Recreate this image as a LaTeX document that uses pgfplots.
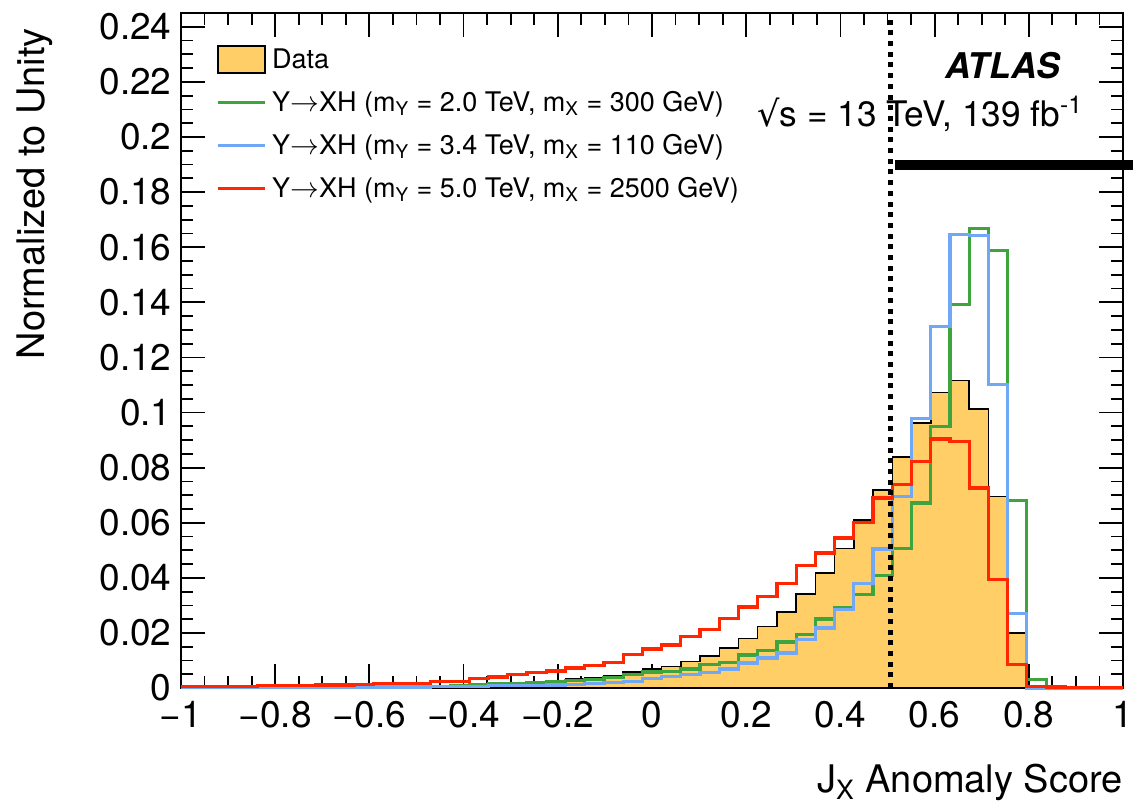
\documentclass[border=0pt]{standalone}
\usepackage{pgfplots}
\usepackage{pgfplotstable}
\pgfplotsset{compat=1.18}
\usepackage{amsmath}
\usepackage{fontspec}
\setmainfont{TeX Gyre Heros}
\newfontfamily\dejavu{DejaVu Sans}
\definecolor{datayellow}{RGB}{255,206,102}
\definecolor{sgreen}{RGB}{62,165,62}
\definecolor{sblue}{RGB}{112,168,245}
\definecolor{sred}{RGB}{255,38,0}
\newcommand{\sub}[1]{$_{\text{#1}}$}

\pgfplotstableread{
x data green blue red
-1.0000 0.0000 0.0001 0.0001 0.0006
-0.9592 0.0000 0.0001 0.0001 0.0006
-0.9184 0.0000 0.0001 0.0001 0.0006
-0.8776 0.0000 0.0001 0.0001 0.0006
-0.8367 0.0000 0.0001 0.0001 0.0008
-0.7959 0.0000 0.0001 0.0001 0.0010
-0.7551 0.0000 0.0001 0.0001 0.0010
-0.7143 0.0000 0.0002 0.0002 0.0011
-0.6735 0.0001 0.0002 0.0002 0.0011
-0.6327 0.0001 0.0002 0.0002 0.0012
-0.5918 0.0001 0.0004 0.0004 0.0016
-0.5510 0.0001 0.0004 0.0004 0.0016
-0.5102 0.0001 0.0005 0.0004 0.0017
-0.4694 0.0002 0.0007 0.0005 0.0024
-0.4286 0.0003 0.0010 0.0007 0.0025
-0.3878 0.0004 0.0013 0.0007 0.0034
-0.3469 0.0005 0.0015 0.0008 0.0040
-0.3061 0.0008 0.0018 0.0008 0.0050
-0.2653 0.0011 0.0021 0.0009 0.0056
-0.2245 0.0022 0.0024 0.0011 0.0062
-0.1837 0.0033 0.0028 0.0014 0.0073
-0.1429 0.0038 0.0032 0.0017 0.0083
-0.1020 0.0045 0.0038 0.0020 0.0093
-0.0612 0.0059 0.0048 0.0024 0.0121
-0.0204 0.0069 0.0058 0.0036 0.0142
0.0204 0.0078 0.0060 0.0042 0.0156
0.0612 0.0097 0.0069 0.0048 0.0187
0.1020 0.0117 0.0087 0.0057 0.0214
0.1429 0.0145 0.0093 0.0069 0.0252
0.1837 0.0180 0.0120 0.0091 0.0294
0.2245 0.0224 0.0137 0.0109 0.0333
0.2653 0.0276 0.0167 0.0127 0.0381
0.3061 0.0342 0.0194 0.0175 0.0444
0.3469 0.0418 0.0251 0.0218 0.0490
0.3878 0.0506 0.0293 0.0284 0.0545
0.4286 0.0610 0.0339 0.0381 0.0601
0.4694 0.0719 0.0408 0.0505 0.0690
0.5102 0.0839 0.0508 0.0696 0.0738
0.5510 0.0962 0.0672 0.0977 0.0823
0.5918 0.1073 0.0950 0.1313 0.0904
0.6327 0.1117 0.1392 0.1646 0.0896
0.6735 0.1013 0.1668 0.1642 0.0726
0.7143 0.0696 0.1589 0.1101 0.0393
0.7551 0.0200 0.0681 0.0272 0.0085
0.7959 0.0002 0.0030 0.0000 0.0006
0.8367 0.0000 0.0000 0.0000 0.0004
0.8776 0.0000 0.0000 0.0000 0.0003
0.9184 0.0000 0.0000 0.0000 0.0002
0.9592 0.0000 0.0000 0.0000 0.0002
1.0000 0.0000 0.0000 0.0000 0.0002
}\hist

\begin{document}
\begin{tikzpicture}
\begin{axis}[
  scale only axis, width=471pt, height=337.5pt,
  xmin=-1, xmax=1, ymin=0, ymax=0.245,
  clip=false,
  xtick={-1,-0.8,-0.6,-0.4,-0.2,0,0.2,0.4,0.6,0.8,1},
  xticklabels={−1,−0.8,−0.6,−0.4,−0.2,0,0.2,0.4,0.6,0.8,1},
  minor x tick num=3,
  ytick={0,0.02,0.04,0.06,0.08,0.1,0.12,0.14,0.16,0.18,0.2,0.22,0.24},
  yticklabels={0,0.02,0.04,0.06,0.08,0.1,0.12,0.14,0.16,0.18,0.2,0.22,0.24},
  minor y tick num=3,
  major tick length=12pt, minor tick length=6pt,
  tick style={black, line width=0.9pt},
  axis line style={line width=0.9pt},
  tick label style={font=\fontsize{18.5}{20}\selectfont},
  yticklabel style={inner sep=0pt, xshift=-4.5pt},
  xticklabel style={inner sep=0pt, yshift=-6.5pt},
  xlabel={J\sub{X} Anomaly Score},
  ylabel={Normalized to Unity},
  label style={font=\fontsize{19}{21}\selectfont},
  xlabel style={at={(rel axis cs:1,-0.154)}, anchor=base east, inner sep=0pt},
  ylabel style={at={(rel axis cs:-0.155,0.978)}, anchor=east, inner sep=0pt},
  legend style={draw=none, fill=none, at={(rel axis cs:0.0372,0.9526)}, anchor=north west,
    font=\fontsize{13.5}{15}\selectfont, inner sep=0pt, outer sep=0pt,
    row sep=6.5pt, nodes={inner sep=0pt, text height=11.5pt, text depth=3.5pt}},
  legend cell align=left,
]
\addplot[const plot, fill=datayellow, draw=black, line width=0.75pt,
  legend image code/.code={\draw[fill=datayellow, draw=black, line width=0.9pt] (0pt,-6.5pt) rectangle (23.5pt,7pt); \path (26.5pt,0pt);}]
  table[x=x, y=data] {\hist} \closedcycle;
\addlegendentry{Data}
\addplot[const plot, draw=sgreen, line width=1.6pt,
  legend image code/.code={\draw[sgreen, line width=1.6pt] (0pt,0.3pt) -- (23.5pt,0.3pt); \path (26.5pt,0pt);}]
  table[x=x, y=green] {\hist};
\addlegendentry{Y$\rightarrow$XH (m\sub{Y} = 2.0 TeV, m\sub{X} = 300 GeV)}
\addplot[const plot, draw=sblue, line width=1.6pt,
  legend image code/.code={\draw[sblue, line width=1.6pt] (0pt,0.3pt) -- (23.5pt,0.3pt); \path (26.5pt,0pt);}]
  table[x=x, y=blue] {\hist};
\addlegendentry{Y$\rightarrow$XH (m\sub{Y} = 3.4 TeV, m\sub{X} = 110 GeV)}
\addplot[const plot, draw=sred, line width=1.6pt,
  legend image code/.code={\draw[sred, line width=1.6pt] (0pt,0.3pt) -- (23.5pt,0.3pt); \path (26.5pt,0pt);}]
  table[x=x, y=red] {\hist};
\addlegendentry{Y$\rightarrow$XH (m\sub{Y} = 5.0 TeV, m\sub{X} = 2500 GeV)}

\draw[black, line width=2.5pt, dash pattern=on 2.5pt off 2.85pt] (axis cs:0.506,0) -- (axis cs:0.506,0.245);
\draw[black, line width=5pt] (axis cs:0.515,0.19) -- (axis cs:1.0212,0.19);

\node[anchor=base west, inner sep=0pt, font=\fontsize{17.7}{19}\selectfont\bfseries\itshape] at (rel axis cs:0.811,0.9037) {ATLAS};
\node[anchor=base west, inner sep=0pt, font=\fontsize{17.6}{19}\selectfont] at (rel axis cs:0.6115,0.8326) {{\dejavu √}s = 13 TeV, 139 fb$^{\text{-1}}$};

\coordinate (bl) at (rel axis cs:-0.1921,-0.1807);
\coordinate (tr) at (rel axis cs:1.0106,1.0193);
\end{axis}
\pgfresetboundingbox
\path[use as bounding box] (bl) rectangle (tr);
\end{tikzpicture}
\end{document}
